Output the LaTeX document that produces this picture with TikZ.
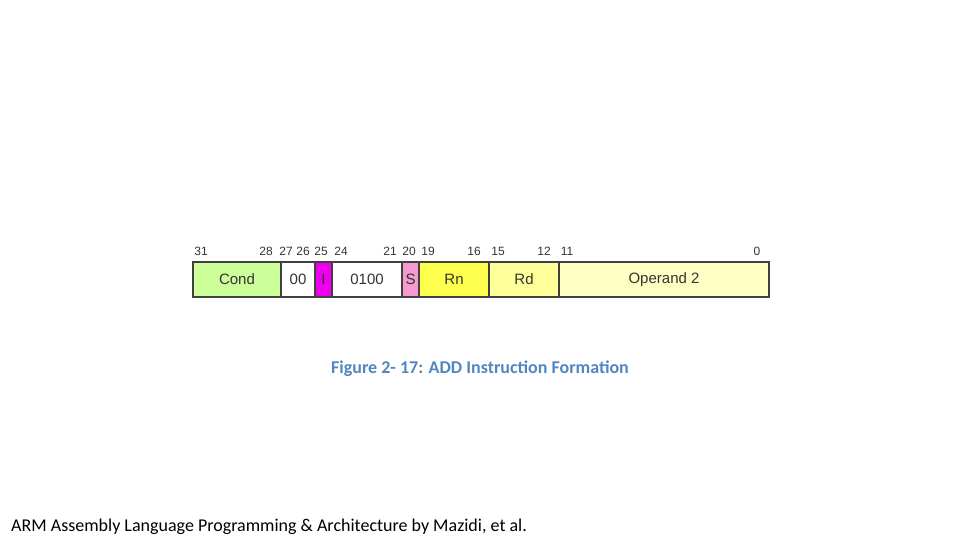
\documentclass[tikz,border=0pt]{standalone}
\usepackage{fontspec}
\setmainfont{Carlito}
\newfontfamily\arialfont{Liberation Sans}
\usetikzlibrary{positioning}
\definecolor{condgreen}{HTML}{CCFF99}
\definecolor{ibit}{HTML}{EE00EE}
\definecolor{sbit}{HTML}{F49AD0}
\definecolor{rnyellow}{HTML}{FFFF4D}
\definecolor{rdyellow}{HTML}{FFFF99}
\definecolor{opyellow}{HTML}{FFFFC4}
\definecolor{capblue}{HTML}{5186C0}

\begin{document}
\begin{tikzpicture}[x=1pt,y=-1pt,
  field/.style={draw=black!75,line width=1.2pt,minimum height=35pt,inner sep=0pt,outer sep=0pt,
    font=\arialfont\fontsize{15}{15}\selectfont,text=black!80},
  bitno/.style={font=\arialfont\fontsize{12}{12}\selectfont,text=black!80,inner sep=0pt}]
  \useasboundingbox (0,0) rectangle (960,540);
  % the instruction word
  \node[field,fill=condgreen,minimum width=88pt,anchor=north west] (cond) at (193,262) {Cond};
  \node[field,fill=white,minimum width=34pt,right=0pt of cond] (zz) {00};
  \node[field,fill=ibit,minimum width=17pt,right=0pt of zz] (ibit) {I};
  \node[field,fill=white,minimum width=70pt,right=0pt of ibit] (opcode) {0100};
  \node[field,fill=sbit,minimum width=17pt,right=0pt of opcode] (sbit) {S};
  \node[field,fill=rnyellow,minimum width=70pt,right=0pt of sbit] (rn) {Rn};
  \node[field,fill=rdyellow,minimum width=70pt,right=0pt of rn] (rd) {Rd};
  \node[field,fill=opyellow,minimum width=210pt,right=0pt of rd] (optwo) {Operand 2};
  % bit numbers
  \foreach \x/\b in {201/31,266/28,286/27,303/26,321/25,341/24,390/21,409/20,428/19,474/16,498/15,544/12,567/11,757/0}
    \node[bitno] (bit\b) at (\x,251) {\b};
  \node[font=\bfseries\fontsize{18}{18}\selectfont,text=capblue] (caption) at (480,369) {Figure 2- 17: ADD Instruction Formation};
  \node[font=\fontsize{18}{18}\selectfont,anchor=west,inner sep=0pt] (source) at (11,527) {ARM Assembly Language Programming \& Architecture by Mazidi, et al.};
\end{tikzpicture}
\end{document}
